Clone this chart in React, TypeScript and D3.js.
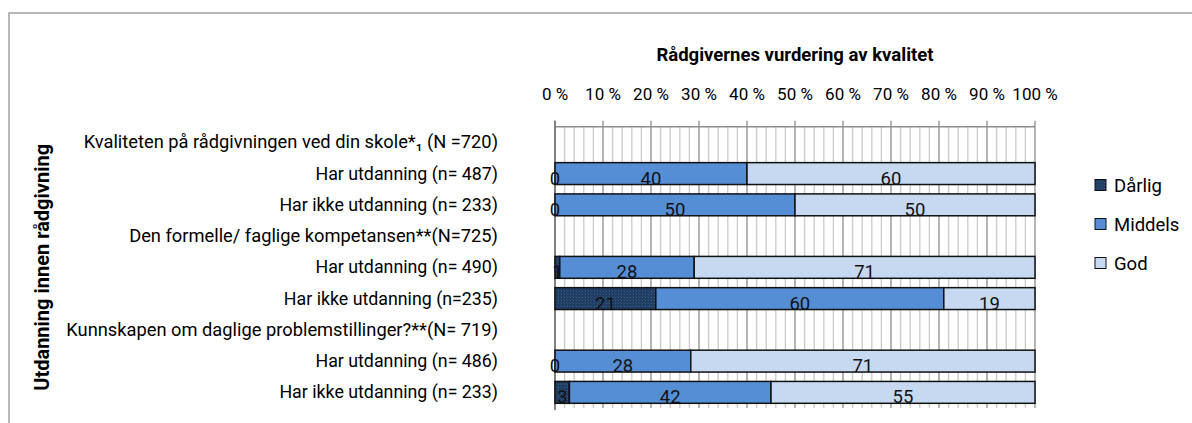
import * as d3 from "d3";

const width = 1192;
const height = 423;

const marginLeft = 555;
const marginRight = 157;
const plotTop = 126.7;
const plotBottom = 408;

const categories = [
  "Kvaliteten på rådgivningen ved din skole*\u2081 (N =720)",
  "Har utdanning  (n= 487)",
  "Har ikke utdanning (n= 233)",
  "Den formelle/ faglige  kompetansen**(N=725)",
  "Har utdanning  (n= 490)",
  "Har ikke utdanning (n=235)",
  "Kunnskapen om daglige  problemstillinger?**(N= 719)",
  "Har utdanning  (n= 486)",
  "Har ikke utdanning (n= 233)",
];

const seriesNames = ["Dårlig", "Middels", "God"];
// null = overskriftsrad uten søyle
const darlig = [null, 0, 0, null, 1, 21, null, 0, 3];
const middels = [null, 40, 50, null, 28, 60, null, 28, 42];
const god = [null, 60, 50, null, 71, 19, null, 71, 55];

const tickLabels = ["0 %", "10 %", "20 %", "30 %", "40 %", "50 %", "60 %", "70 %", "80 %", "90 %", "100 %"];

const fills = ["url(#darligPattern)", "#558ED5", "#C6D9F1"];

const font = "Roboto, 'Open Sans', sans-serif";

export default function App() {
  const x = d3
    .scaleLinear()
    .domain([0, 1])
    .range([marginLeft, width - marginRight]);

  // indekser som domene, siden to etiketter er like
  const y = d3
    .scaleBand<number>()
    .domain(d3.range(categories.length))
    .range([plotTop, plotBottom])
    .paddingInner(0.3)
    .paddingOuter(0.15);

  const rows = categories
    .map((c, i) => ({ idx: i, Dårlig: darlig[i], Middels: middels[i], God: god[i] }))
    .filter((r) => r.Dårlig !== null);

  const stack = d3
    .stack<any>()
    .keys(seriesNames)
    .offset(d3.stackOffsetExpand);
  const layers = stack(rows);

  const minorTicks = d3.range(0, 101, 2).map((d) => d / 100);
  const majorTicks = d3.range(0, 101, 10).map((d) => d / 100);

  return (
    <svg
      width={width}
      height={height}
      viewBox={`0 0 ${width} ${height}`}
      style={{ position: "absolute", left: 0, top: 0, background: "#fff" }}
      fontFamily={font}
    >
      <defs>
        <pattern id="darligPattern" width={3} height={3} patternUnits="userSpaceOnUse">
          <rect width={3} height={3} fill="#1F3C62" />
          <rect x={0} y={0} width={1} height={1} fill="#3A5A80" />
          <rect x={2} y={2} width={1} height={1} fill="#2C4A70" />
        </pattern>
      </defs>

      {/* ramme */}
      <rect x={9} y={13} width={1300} height={500} fill="none" stroke="#a0a0a0" strokeWidth={1.5} />

      {/* tittel */}
      <text
        x={(x(0) + x(1)) / 2}
        y={61}
        textAnchor="middle"
        fontWeight="bold"
        fontSize={18.5}
        fill="#000"
      >
        Rådgivernes vurdering av kvalitet
      </text>

      {/* rutenett */}
      <g className="grid">
        {minorTicks.map((t, i) =>
          i % 5 === 0 ? null : (
            <line key={i} x1={x(t)} x2={x(t)} y1={plotTop} y2={plotBottom} stroke="#c9c9c9" strokeWidth={1.3} />
          )
        )}
        {majorTicks.map((t, i) => (
          <line key={i} x1={x(t)} x2={x(t)} y1={plotTop - 6} y2={plotBottom} stroke="#8c8c8c" strokeWidth={1.3} />
        ))}
        <line x1={x(0)} x2={x(1)} y1={plotTop} y2={plotTop} stroke="#8c8c8c" strokeWidth={1.5} />
        <line x1={x(0)} x2={x(0)} y1={plotTop - 6} y2={plotBottom + 2} stroke="#7a7a7a" strokeWidth={1.8} />
      </g>

      {/* akseetiketter */}
      <g className="x-axis">
        {majorTicks.map((t, i) => (
          <text key={i} x={x(t)} y={100} textAnchor="middle" fontSize={17} fill="#000">
            {tickLabels[i]}
          </text>
        ))}
      </g>

      {/* søyler */}
      <g className="bars">
        {layers.map((layer, li) =>
          layer.map((seg, si) => {
            const idx = (seg.data as any).idx;
            const x0 = x(seg[0]);
            const x1 = x(seg[1]);
            return (
              <rect
                key={`${li}-${si}`}
                x={x0}
                y={y(idx)!}
                width={Math.max(0, x1 - x0)}
                height={y.bandwidth()}
                fill={fills[li]}
                stroke="#111"
                strokeWidth={1.5}
              />
            );
          })
        )}
      </g>

      {/* verdietiketter */}
      <g className="labels">
        {layers.map((layer, li) =>
          layer.map((seg, si) => {
            const idx = (seg.data as any).idx;
            const v = (seg.data as any)[seriesNames[li]];
            return (
              <text
                key={`${li}-${si}`}
                x={(x(seg[0]) + x(seg[1])) / 2}
                y={y(idx)! + y.bandwidth() / 2 + 11}
                textAnchor="middle"
                fontSize={18.5}
                fill="#111"
              >
                {v}
              </text>
            );
          })
        )}
      </g>

      {/* kategorier */}
      <g className="y-axis">
        {categories.map((c, i) => (
          <text
            key={i}
            x={498}
            y={y(i)! + y.bandwidth() / 2 + 6}
            textAnchor="end"
            fontSize={i % 3 === 0 ? 18.3 : 17.8}
            fill="#000"
          >
            {c}
          </text>
        ))}
      </g>

      {/* y-aksetittel */}
      <text
        transform={`translate(49, ${(plotTop + plotBottom) / 2}) rotate(-90)`}
        textAnchor="middle"
        fontWeight="bold"
        fontSize={20}
        fill="#000"
      >
        Utdanning innen rådgivning
      </text>

      {/* forklaring */}
      <g className="legend">
        {seriesNames.map((s, i) => (
          <g key={s} transform={`translate(1095, ${185 + i * 39})`}>
            <rect x={0} y={-5.5} width={11} height={11} fill={fills[i]} stroke="#111" strokeWidth={1} />
            <text x={19} y={6.5} fontSize={18.5} fill="#000">
              {s}
            </text>
          </g>
        ))}
      </g>
    </svg>
  );
}
